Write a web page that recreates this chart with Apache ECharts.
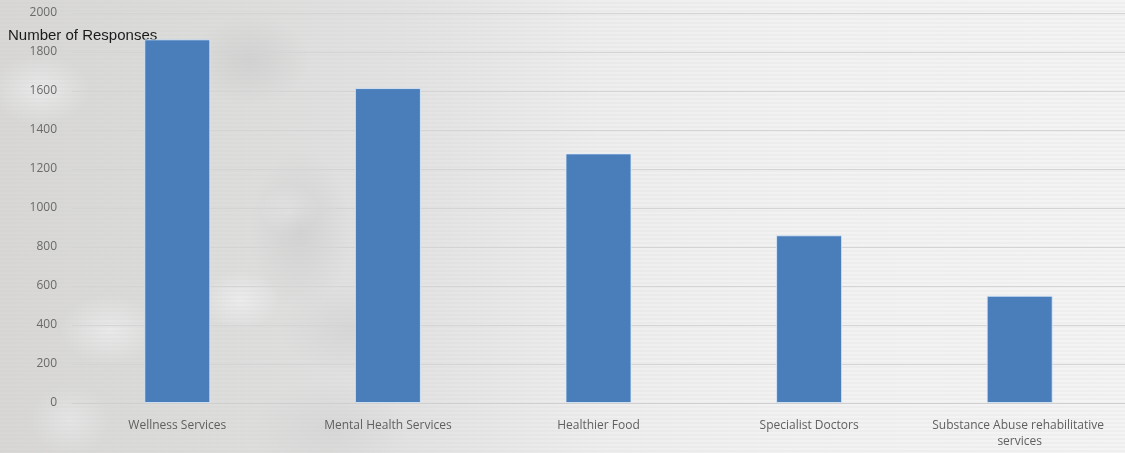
<!DOCTYPE html>
<html>
<head>
<meta charset="utf-8">
<script src="https://cdn.jsdelivr.net/npm/echarts@6/dist/echarts.min.js"></script>
<style>
html,body{margin:0;padding:0;}
#bg{position:absolute;left:0;top:0;width:1125px;height:453px;
background:
 repeating-linear-gradient(180deg, rgba(255,255,255,0.0) 0px, rgba(255,255,255,0.0) 2px, rgba(200,200,200,0.25) 3px, rgba(255,255,255,0.0) 4px),
 radial-gradient(ellipse 50px 35px at 40px 90px, rgba(238,238,238,0.8), rgba(238,238,238,0) 100%),
 radial-gradient(ellipse 60px 45px at 250px 60px, rgba(190,190,190,0.4), rgba(190,190,190,0) 100%),
 radial-gradient(ellipse 50px 80px at 300px 230px, rgba(185,185,185,0.35), rgba(185,185,185,0) 100%),
 radial-gradient(ellipse 30px 25px at 290px 210px, rgba(240,240,240,0.8), rgba(240,240,240,0) 100%),
 radial-gradient(ellipse 40px 30px at 240px 300px, rgba(240,240,240,0.8), rgba(240,240,240,0) 100%),
 radial-gradient(ellipse 70px 45px at 350px 330px, rgba(195,195,195,0.35), rgba(195,195,195,0) 100%),
 radial-gradient(ellipse 50px 35px at 110px 330px, rgba(238,238,238,0.8), rgba(238,238,238,0) 100%),
 radial-gradient(ellipse 40px 35px at 70px 420px, rgba(232,232,232,0.8), rgba(232,232,232,0) 100%),
 radial-gradient(ellipse 80px 50px at 330px 430px, rgba(198,198,198,0.35), rgba(198,198,198,0) 100%),
 linear-gradient(90deg, #d8d7d6 0px, #dcdcdb 200px, #e3e3e3 420px, #eeeeee 600px, #f2f2f2 800px, #f4f4f4 1125px);
}
#chart{position:absolute;left:0;top:0;width:1125px;height:453px;}
</style>
</head>
<body>
<div id="bg"></div>
<div id="chart"></div>
<script>
const categories = ["Wellness Services", "Mental Health Services", "Healthier Food", "Specialist Doctors", "Substance Abuse rehabilitative services"];
const responses = [1865, 1615, 1280, 860, 550];
const yTicks = { min: 0, max: 2000, interval: 200 };
const yAxisName = "Number of Responses";

const chart = echarts.init(document.getElementById('chart'), null, {renderer: 'canvas'});
chart.setOption({
  backgroundColor: 'transparent',
  animation: false,
  grid: { left: 72, right: -2, top: 13, bottom: 50, containLabel: false },
  xAxis: {
    type: 'category',
    data: categories,
    axisLine: { show: true, lineStyle: { color: '#cfcfcf', width: 1 } },
    axisTick: { show: false },
    axisLabel: {
      color: '#606060', fontSize: 12, fontFamily: 'Open Sans', margin: 15,
      width: 205, overflow: 'break', lineHeight: 16, interval: 0
    }
  },
  yAxis: {
    type: 'value',
    min: yTicks.min, max: yTicks.max, interval: yTicks.interval,
    name: yAxisName,
    nameLocation: 'end',
    nameGap: 0,
    nameTextStyle: { color: '#1a1a1a', fontSize: 15, fontFamily: 'Liberation Sans', align: 'left', padding: [0, 0, -30, -64] },
    axisLine: { show: false },
    axisTick: { show: false },
    axisLabel: { color: '#6a6a6a', fontSize: 12, fontFamily: 'Open Sans', margin: 15, formatter: function (v) { return String(v); } },
    splitLine: { show: true, lineStyle: { color: '#d4d4d4', width: 1 } }
  },
  series: [{
    type: 'bar',
    data: responses,
    barWidth: 66,
    itemStyle: { color: '#4a7ebb', borderColor: 'rgba(220,235,250,0.8)', borderWidth: 1 }
  }]
});
</script>
</body>
</html>
